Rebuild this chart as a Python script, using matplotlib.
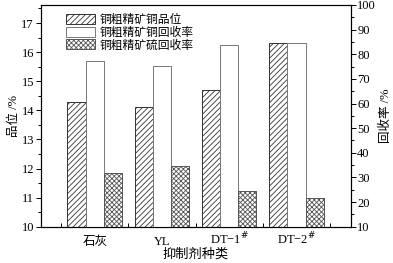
import matplotlib
matplotlib.use("Agg")
import matplotlib.pyplot as plt
from matplotlib.ticker import MultipleLocator
import numpy as np

plt.rcParams['font.family'] = ['Liberation Serif', 'Noto Sans CJK SC']
plt.rcParams['hatch.linewidth'] = 0.6

categories = ['石灰', 'YL', 'DT−1$^{\\#}$', 'DT−2$^{\\#}$']
cu_grade = [14.3, 14.1, 14.7, 16.3]
cu_recovery = [77.1, 75.4, 83.6, 84.7]
s_recovery = [31.7, 34.7, 24.5, 21.6]
series_names = ['铜粗精矿铜品位', '铜粗精矿铜回收率', '铜粗精矿硫回收率']

fig = plt.figure(figsize=(3.93, 2.63), dpi=100)
ax = fig.add_axes([0.104, 0.138, 0.789, 0.843])
ax2 = ax.twinx()

x = np.arange(len(categories))
w = 0.27

b1 = ax.bar(x - w, cu_grade, w, facecolor='white', edgecolor='#333333',
            hatch='//////', linewidth=0.7, label=series_names[0])
b2 = ax2.bar(x, cu_recovery, w, facecolor='white', edgecolor='#777777',
             linewidth=0.7, label=series_names[1])
b3 = ax2.bar(x + w, s_recovery, w, facecolor='white', edgecolor='#555555',
             hatch='xxxxxxx', linewidth=0.7, label=series_names[2])

ax.set_ylim(10, 17.62)
ax2.set_ylim(10, 100)
ax.set_xlim(-0.8, 3.81)
ax.set_xticks(x)
ax.set_xticklabels(categories, fontsize=9)
for lab in ax.get_xticklabels():
    lab.set_verticalalignment('baseline')
ax.xaxis.set_minor_locator(MultipleLocator(0.5))
ax.tick_params(axis='x', which='minor', direction='in', length=3, width=0.7, top=False)
ax.tick_params(axis='x', which='major', direction='in', length=3, width=0.7, pad=13)

ax.yaxis.set_major_locator(MultipleLocator(1))
ax.yaxis.set_minor_locator(MultipleLocator(0.5))
ax.tick_params(axis='y', which='major', direction='out', length=3.5, width=0.7, labelsize=9, pad=1.5)
ax.tick_params(axis='y', which='minor', direction='out', length=2, width=0.7)

ax2.yaxis.set_major_locator(MultipleLocator(10))
ax2.yaxis.set_minor_locator(MultipleLocator(5))
ax2.tick_params(axis='y', which='major', direction='out', length=3.5, width=0.7, labelsize=9, pad=1)
ax2.tick_params(axis='y', which='minor', direction='out', length=2, width=0.7)

for a in (ax, ax2):
    for s in a.spines.values():
        s.set_linewidth(0.8)

ax.set_ylabel('品位 /%', fontsize=9, labelpad=1)
ax2.set_ylabel('回收率 /%', fontsize=9, labelpad=3)
ax.set_xlabel('抑制剂种类', fontsize=9.5, labelpad=0.5)

handles = [b1, b2, b3]
leg = ax.legend(handles, series_names, loc='upper left', bbox_to_anchor=(0.065, 0.98),
                fontsize=8.5, frameon=False, handlelength=2.5, handleheight=0.9,
                labelspacing=0.05, handletextpad=0.35, borderpad=0.2, borderaxespad=0.2)

fig.savefig('out.png', dpi=100)
